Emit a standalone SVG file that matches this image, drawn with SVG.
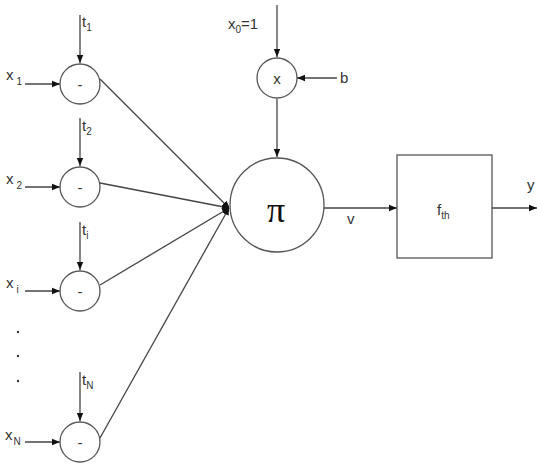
<svg xmlns="http://www.w3.org/2000/svg" width="537" height="464" viewBox="0 0 537 464">
<defs>
<marker id="ah" viewBox="0 0 10 10" refX="10" refY="5" markerWidth="8" markerHeight="8" markerUnits="userSpaceOnUse" orient="auto"><path d="M0,1 L10,5 L0,9 Z" fill="#111"/></marker>
<marker id="ah2" viewBox="0 0 10 10" refX="10" refY="5" markerWidth="7" markerHeight="9" markerUnits="userSpaceOnUse" orient="auto"><path d="M0,0 L10,5 L0,10 Z" fill="#111"/></marker>
</defs>
<style>
.n{fill:#fff;stroke:#555;stroke-width:1.3}
.c{stroke:#444;stroke-width:1.3;fill:none}
.t{font-family:"Liberation Sans",Arial,sans-serif;fill:#333;font-size:15px}
.s{font-size:10px}
</style>
<rect width="537" height="464" fill="#fff"/>
<g id="connectors">
<line class="c" x1="80" y1="15" x2="80" y2="63" marker-end="url(#ah)"/>
<line class="c" x1="25" y1="84" x2="60" y2="84" marker-end="url(#ah)"/>
<line class="c" x1="80" y1="118" x2="80" y2="166" marker-end="url(#ah)"/>
<line class="c" x1="25" y1="187" x2="60" y2="187" marker-end="url(#ah)"/>
<line class="c" x1="80" y1="222" x2="80" y2="270" marker-end="url(#ah)"/>
<line class="c" x1="25" y1="291" x2="60" y2="291" marker-end="url(#ah)"/>
<line class="c" x1="80" y1="372" x2="80" y2="421" marker-end="url(#ah)"/>
<line class="c" x1="25" y1="442" x2="60" y2="442" marker-end="url(#ah)"/>
<line class="c" x1="100" y1="79" x2="229" y2="208" marker-end="url(#ah2)"/>
<line class="c" x1="100" y1="183" x2="229" y2="208" marker-end="url(#ah2)"/>
<line class="c" x1="100" y1="285" x2="229" y2="208" marker-end="url(#ah2)"/>
<line class="c" x1="100" y1="438" x2="229" y2="208" marker-end="url(#ah2)"/>
<line class="c" x1="277" y1="5" x2="277" y2="57" marker-end="url(#ah)"/>
<line class="c" x1="337" y1="78" x2="297" y2="78" marker-end="url(#ah)"/>
<line class="c" x1="277" y1="99" x2="277" y2="157" marker-end="url(#ah)"/>
<line class="c" x1="324" y1="208" x2="397" y2="208" marker-end="url(#ah)"/>
<line class="c" x1="492" y1="208" x2="537" y2="208" marker-end="url(#ah)"/>
<ellipse cx="226" cy="208" rx="3" ry="5" fill="#111"/>
</g>
<g id="sub1"><circle class="n" cx="80" cy="84" r="20"/><text class="t" x="80" y="90" text-anchor="middle">-</text></g>
<g id="sub2"><circle class="n" cx="80" cy="187" r="20"/><text class="t" x="80" y="193" text-anchor="middle">-</text></g>
<g id="subi"><circle class="n" cx="80" cy="291" r="20"/><text class="t" x="80" y="297" text-anchor="middle">-</text></g>
<g id="subN"><circle class="n" cx="80" cy="442" r="20"/><text class="t" x="80" y="448" text-anchor="middle">-</text></g>
<g id="mult"><circle class="n" cx="277" cy="78" r="20"/><text class="t" x="277" y="84" text-anchor="middle">x</text></g>
<g id="pi"><circle class="n" cx="277" cy="205" r="47"/><text x="276" y="222" text-anchor="middle" font-family="'Liberation Serif','Times New Roman',serif" font-size="36" fill="#111">π</text></g>
<g id="fth"><rect class="n" x="397" y="155" width="95" height="103"/><text class="t" x="437" y="215">f<tspan class="s" dy="4">th</tspan></text></g>
<g id="labels">
<text class="t" x="82" y="27" font-size="16">t<tspan class="s" dy="4">1</tspan></text>
<text class="t" x="6" y="80">x<tspan class="s" dx="3" dy="5">1</tspan></text>
<text class="t" x="82" y="131" font-size="16">t<tspan class="s" dy="4">2</tspan></text>
<text class="t" x="6" y="184">x<tspan class="s" dx="3" dy="5">2</tspan></text>
<text class="t" x="82" y="235" font-size="16">t<tspan class="s" dy="4">i</tspan></text>
<text class="t" x="6" y="288">x<tspan class="s" dx="3" dy="5">i</tspan></text>
<text class="t" x="82" y="385" font-size="16">t<tspan class="s" dy="4">N</tspan></text>
<text class="t" x="5" y="440">x<tspan class="s" dx="1" dy="5">N</tspan></text>
<text class="t" x="228" y="29">x<tspan class="s" dy="4">0</tspan><tspan dy="-4">=1</tspan></text>
<text class="t" x="340" y="83">b</text>
<text class="t" x="347" y="224">v</text>
<text class="t" x="527" y="190">y</text>
<circle cx="18" cy="332" r="1.2" fill="#333"/>
<circle cx="18" cy="356" r="1.2" fill="#333"/>
<circle cx="18" cy="381" r="1.2" fill="#333"/>
</g>
</svg>
